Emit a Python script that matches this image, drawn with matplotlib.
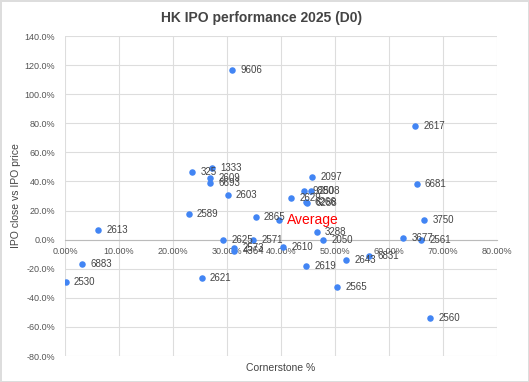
import matplotlib.pyplot as plt
from matplotlib.ticker import FuncFormatter

plt.rcParams['font.family'] = ['Liberation Sans', 'DejaVu Sans']

# stock codes, cornerstone share (%), day-0 close vs IPO price (%)
codes = ['9606', '2617', '6681', '3750', '3677', '2561', '2097', '9880', '2508',
         '2629', '6266', '6288', '2865', '3288', '2050', '2610', '2619', '2643',
         '6831', '2565', '2560', '2613', '2589', '325', '1333', '2609', '6693',
         '2603', '2625', '2571', '2573', '4364', '6883', '2530', '2621']
cornerstone = [30.9, 64.8, 65.1, 66.5, 62.6, 66.0, 45.7, 44.2, 45.5,
               41.9, 44.7, 44.8, 35.3, 46.6, 47.8, 40.4, 44.6, 52.0,
               56.3, 50.4, 67.6, 6.2, 22.9, 23.5, 27.2, 26.9, 26.8,
               30.1, 29.3, 34.9, 31.3, 31.3, 3.2, 0.1, 25.3]
perf = [116.6, 78.3, 38.4, 13.5, 1.1, -0.4, 42.8, 33.4, 33.6,
        28.4, 25.6, 25.0, 15.3, 5.2, -0.3, -5.3, -17.9, -14.3,
        -11.1, -32.4, -53.9, 6.4, 17.4, 46.5, 49.0, 42.4, 38.7,
        30.5, -0.3, 0.0, -5.5, -8.0, -17.0, -29.2, -26.6]

avg_x = 39.6
avg_y = 13.5

blue = '#4285f4'
grey = '#444444'

fig = plt.figure(figsize=(5.29, 3.82), dpi=100)
ax = fig.add_axes([65/529, 1-356/382, 432/529, 320/382])

ax.scatter(cornerstone, perf, s=22, color=blue, zorder=3, linewidths=0)
for c, x, y in zip(codes, cornerstone, perf):
    ax.annotate(c, (x, y), xytext=(6, 0), textcoords='offset points',
                fontsize=7, color=grey, va='center', ha='left', zorder=4)

ax.scatter([avg_x], [avg_y], s=22, color=blue, zorder=3, linewidths=0)
ax.annotate('Average', (avg_x, avg_y), xytext=(6, 0), textcoords='offset points',
            fontsize=10, color='red', va='center', ha='left', zorder=4)

ax.set_xlim(0, 80)
ax.set_ylim(-80, 140)
ax.set_xticks(range(0, 81, 10))
ax.set_yticks(range(-80, 141, 20))
ax.xaxis.set_major_formatter(FuncFormatter(lambda v, p: '%.2f%%' % v))
ax.yaxis.set_major_formatter(FuncFormatter(lambda v, p: '%.1f%%' % v))
ax.tick_params(length=0, labelsize=6.5, labelcolor='#555555')
ax.tick_params(axis='x', pad=5)
ax.tick_params(axis='y', pad=7)

ax.grid(True, color='#dddddd', linewidth=0.8)
ax.set_axisbelow(True)
for s in ['top', 'right', 'left']:
    ax.spines[s].set_visible(False)
ax.spines['bottom'].set_position(('data', 0))
ax.spines['bottom'].set_color('#bbbbbb')

fig.text(281/529, 1-368/382, 'Cornerstone %', ha='center', va='center', fontsize=7.5, color=grey)
fig.text(16/529, 1-196/382, 'IPO close vs IPO price', ha='center', va='center',
         rotation=90, fontsize=7.5, color=grey)
fig.text(262/529, 1-18/382, 'HK IPO performance 2025 (D0)', ha='center', va='center',
         fontsize=10, fontweight='bold', color=grey)

fig.patch.set_edgecolor('#dddddd')
fig.patch.set_linewidth(1)

fig.savefig('out.png', dpi=100, edgecolor=fig.get_edgecolor())
